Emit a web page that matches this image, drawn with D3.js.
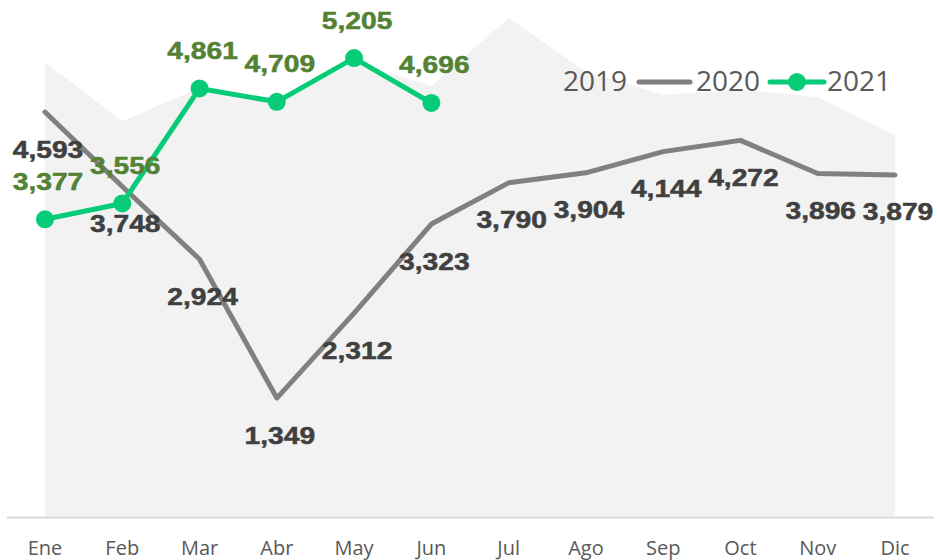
<!DOCTYPE html>
<html>
<head>
<meta charset="utf-8">
<script src="https://cdn.jsdelivr.net/npm/d3@7"></script>
<style>
  body { margin: 0; background: #fff; }
  svg { display: block; }
</style>
</head>
<body>
<div id="container"></div>
<script>
// data
var months = ["Ene", "Feb", "Mar", "Abr", "May", "Jun", "Jul", "Ago", "Sep", "Oct", "Nov", "Dic"];
var values2019 = [5160, 4490, 4870, 4700, 5150, 4890, 5660, 5050, 4790, 4850, 4760, 4330];
var values2020 = [4593, 3748, 2924, 1349, 2312, 3323, 3790, 3904, 4144, 4272, 3896, 3879];
var values2021 = [3377, 3556, 4861, 4709, 5205, 4696];
var legendLabels = ["2019", "2020", "2021"];

const width = 937;
const height = 560;

const x = d3.scalePoint()
    .domain(months)
    .range([45, 895]);

const y = d3.scaleLinear()
    .domain([0, 5864])
    .range([517, 0]);

const svg = d3.select("#container")
    .append("svg")
        .attr("width", width)
        .attr("height", height);

// 2019 area
const area = d3.area()
    .x((d, i) => x(months[i]))
    .y0(y(0) - 1)
    .y1(d => y(d));

svg.append("path")
    .datum(values2019)
    .attr("fill", "#f2f2f2")
    .attr("d", area);

// baseline
svg.append("line")
    .attr("x1", 7).attr("x2", 934)
    .attr("y1", y(0) + 0.5).attr("y2", y(0) + 0.5)
    .attr("stroke", "#d9d9d9")
    .attr("stroke-width", 2);

// month labels
svg.append("g")
    .selectAll("text")
    .data(months)
    .join("text")
        .attr("x", d => x(d))
        .attr("y", 555)
        .attr("text-anchor", "middle")
        .attr("font-family", "'Open Sans', sans-serif")
        .attr("font-size", 20)
        .attr("fill", "#595959")
        .text(d => d);

const line = d3.line()
    .x((d, i) => x(months[i]))
    .y(d => y(d));

// 2020 line
svg.append("path")
    .datum(values2020)
    .attr("fill", "none")
    .attr("stroke", "#808080")
    .attr("stroke-width", 5)
    .attr("stroke-linecap", "round")
    .attr("stroke-linejoin", "round")
    .attr("d", line);

// 2021 line + markers
svg.append("path")
    .datum(values2021)
    .attr("fill", "none")
    .attr("stroke", "#06cc78")
    .attr("stroke-width", 5)
    .attr("stroke-linejoin", "round")
    .attr("d", line);

svg.append("g")
    .selectAll("circle")
    .data(values2021)
    .join("circle")
        .attr("cx", (d, i) => x(months[i]))
        .attr("cy", d => y(d))
        .attr("r", 9)
        .attr("fill", "#06cc78");

function valueLabels(data, offset, color) {
    svg.append("g")
        .selectAll("text")
        .data(data)
        .join("text")
            .attr("transform", (d, i) =>
                "translate(" + (x(months[i]) + 3) + "," + (y(d) + offset) + ")scale(1.2,1)")
            .attr("dy", "0.36em")
            .attr("text-anchor", "middle")
            .attr("font-family", "'Liberation Sans', Arial, sans-serif")
            .attr("font-weight", "bold")
            .attr("font-size", 23.5)
            .attr("fill", color)
            .attr("stroke", color)
            .attr("stroke-width", 0.5)
            .text(d => d3.format(",")(d));
}

valueLabels(values2020, 37, "#404040");
valueLabels(values2021, -38, "#548235");

// legend
const legend = svg.append("g")
    .attr("font-family", "'Open Sans', sans-serif")
    .attr("font-size", 28)
    .attr("fill", "#595959");

legend.append("text").attr("x", 563).attr("y", 91).text(legendLabels[0]);
legend.append("line")
    .attr("x1", 639).attr("x2", 690).attr("y1", 82).attr("y2", 82)
    .attr("stroke", "#808080").attr("stroke-width", 5).attr("stroke-linecap", "round");
legend.append("text").attr("x", 696).attr("y", 91).text(legendLabels[1]);
legend.append("line")
    .attr("x1", 770).attr("x2", 824).attr("y1", 82).attr("y2", 82)
    .attr("stroke", "#06cc78").attr("stroke-width", 5).attr("stroke-linecap", "round");
legend.append("circle")
    .attr("cx", 797).attr("cy", 82).attr("r", 9).attr("fill", "#06cc78");
legend.append("text").attr("x", 827).attr("y", 91).text(legendLabels[2]);
</script>
</body>
</html>
